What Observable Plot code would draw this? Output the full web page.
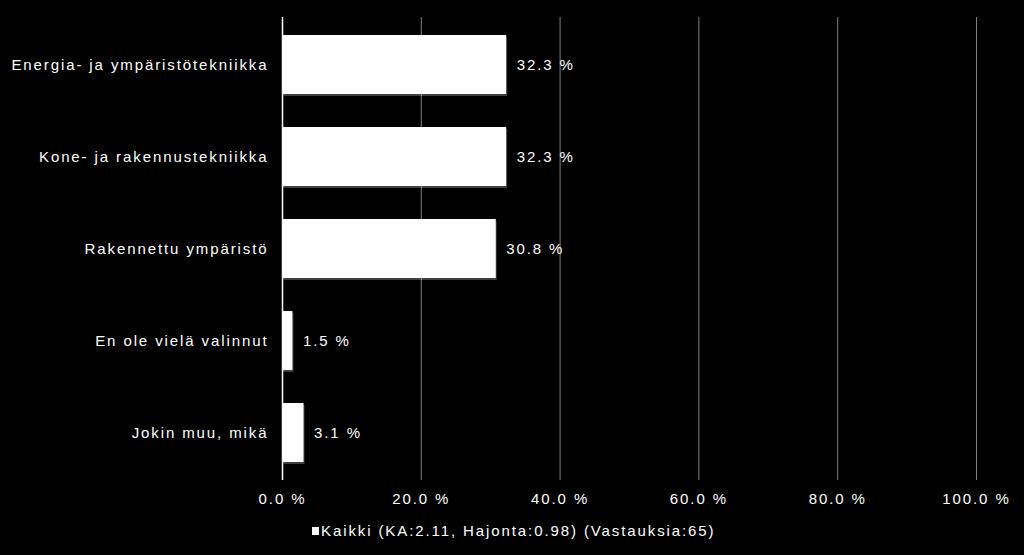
<!DOCTYPE html>
<html>
<head>
<meta charset="utf-8">
<script src="https://cdn.jsdelivr.net/npm/d3@7"></script>
<script src="https://cdn.jsdelivr.net/npm/@observablehq/plot@0.6"></script>
<style>
  html, body { margin: 0; padding: 0; background: #000; }
  #chart { width: 1024px; height: 555px; position: relative; overflow: hidden; font-family: "Liberation Sans", Arial, sans-serif; }
  #legend { position: absolute; left: 312px; top: 522px; color: #fff; font-size: 15px; letter-spacing: 1.9px; display: flex; align-items: center; white-space: nowrap; }
  #legend span.sw { display: inline-block; width: 7px; height: 8px; background: #fff; margin-right: 2px; }
</style>
</head>
<body>
<div id="chart"></div>
<script>
const categories = [
  "Energia- ja ympäristötekniikka",
  "Kone- ja rakennustekniikka",
  "Rakennettu ympäristö",
  "En ole vielä valinnut",
  "Jokin muu, mikä"
];
const values = [32.3, 32.3, 30.8, 1.5, 3.1];
const xTicks = [0, 20, 40, 60, 80, 100];
const seriesName = "Kaikki (KA:2.11, Hajonta:0.98) (Vastauksia:65)";

const data = categories.map((c, i) => ({category: c, value: values[i]}));
const fmt = v => v.toFixed(1) + " %";

const plot = Plot.plot({
  width: 1024,
  height: 515,
  marginTop: 17,
  marginBottom: 35,
  marginLeft: 282,
  marginRight: 48,
  style: {background: "#000", color: "#fff", fontFamily: "'Liberation Sans', Arial, sans-serif", fontSize: "15px", letterSpacing: "1.9px"},
  x: {domain: [0, 100], ticks: xTicks, tickFormat: fmt, label: null},
  y: {domain: categories, paddingInner: 0.36, paddingOuter: 0.18, label: null},
  marks: [
    Plot.gridX(xTicks.filter(t => t > 0), {stroke: "#808080", strokeOpacity: 1, strokeWidth: 1}),
    Plot.barX(data, {x: "value", y: "category", fill: "#fff", dy: 2, dx: 1, fillOpacity: 0.25}),
    Plot.barX(data, {x: "value", y: "category", fill: "#fff"}),
    Plot.ruleX([0], {stroke: "#fff", strokeWidth: 1.5}),
    Plot.text(data, {x: "value", y: "category", text: d => fmt(d.value), textAnchor: "start", dx: 10, fill: "#fff", fontSize: 15}),
    Plot.axisY({tickSize: 0, tickPadding: 14, label: null, fontSize: 15}),
    Plot.axisX({ticks: xTicks, tickFormat: fmt, tickSize: 0, tickPadding: 13, label: null, fontSize: 15})
  ]
});
document.getElementById("chart").appendChild(plot);
const lg = document.createElement("div");
lg.id = "legend";
lg.innerHTML = '<span class="sw"></span><span></span>';
lg.lastChild.textContent = seriesName;
document.getElementById("chart").appendChild(lg);
</script>
</body>
</html>
